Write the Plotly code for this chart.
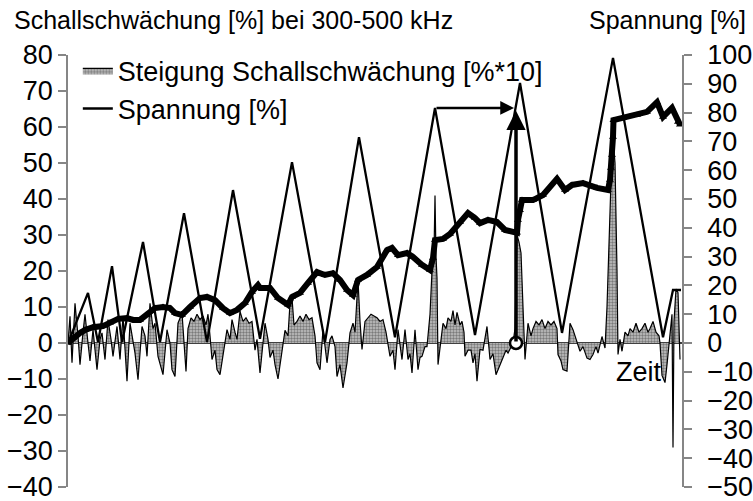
import plotly.graph_objects as go

# Time axis in samples; no tick labels are shown on it
# Voltage ramps (right axis, %)
span_t = [0, 20, 30, 44, 54, 75, 92, 116, 139, 165, 192, 224, 257, 291, 327,
          367, 407, 452, 494, 545, 595, 605, 613]
span_v = [0, 17.4, 0.3, 26.7, 0.3, 35.1, 0.3, 45.1, 0.3, 53.1, 1.5, 62.8, 0.3,
          71.5, 2, 81.6, 2.8, 90.3, 3.5, 99, 2, 18.4, 18.4]

# Attenuation 300-500 kHz (left axis, %)
daempf_t = [0, 5, 12, 17, 25, 35, 42, 50, 59, 65, 72, 79, 87, 95, 102, 107,
            114, 122, 132, 139, 147, 155, 162, 169, 177, 184, 190, 192, 202,
            210, 220, 224, 232, 240, 249, 257, 265, 272, 279, 285, 290, 299,
            309, 319, 324, 330, 339, 345, 354, 362, 365, 367, 375, 382, 392,
            400, 407, 412, 420, 429, 437, 449, 450, 452, 454, 465, 475, 489,
            497, 504, 515, 529, 540, 542, 543, 544, 545, 545.5, 555, 569, 579,
            589, 595, 604, 610, 612]
daempf_v = [0, 1.4, 2.8, 3.6, 4.4, 4.7, 5.6, 6.7, 6.9, 6.4, 6.4, 7.8, 9.7, 10,
            9.7, 8.3, 7.8, 10, 12.5, 12.8, 11.9, 9.7, 8.3, 9.2, 11.1, 14.2,
            16.1, 15.3, 15.3, 12.5, 10.6, 12.8, 13.9, 16.7, 19.7, 18.9, 19.4,
            17.5, 14.7, 13.3, 17.5, 18.9, 21.1, 25.8, 26.4, 24.4, 25, 23.9,
            21.7, 20.3, 23.6, 28.6, 28.9, 30.3, 33.6, 36.1, 34.7, 33.3, 34.2,
            33.6, 31.4, 30.6, 34.2, 36.9, 39.7, 39.7, 41.1, 45.6, 42.5, 43.9,
            44.4, 43.1, 42.5, 45.3, 48.6, 52.2, 57.2, 61.9, 62.5, 63.3, 64.2,
            66.9, 62.8, 65.3, 61.4, 60.6]

# Slope of the attenuation (left axis, %*10)
steig_t = [0, 2, 4, 7, 10, 12, 15, 17, 20, 22, 25, 29, 32, 34, 37, 40, 43, 45,
           49, 52, 55, 59, 62, 65, 67, 70, 74, 77, 79, 82, 85, 87, 90, 95, 99,
           102, 104, 107, 110, 114, 118, 120, 123, 126, 129, 132, 135, 138,
           140, 142, 144, 147, 149, 152, 155, 159, 162, 164, 167, 169, 172,
           175, 178, 181, 184, 187, 189, 192, 195, 197, 200, 202, 205, 207,
           210, 214, 217, 220, 222, 224, 226, 229, 232, 235, 238, 241, 244,
           247, 249, 252, 255, 259, 262, 264, 267, 269, 272, 275, 279, 282,
           285, 287, 289, 290, 292, 294, 297, 300, 303, 306, 309, 312, 315,
           318, 322, 325, 327, 330, 332, 334, 337, 340, 342, 344, 347, 350,
           352, 354, 357, 359, 362, 364, 366, 367, 368, 369, 370, 373, 375,
           378, 380, 383, 385, 387, 389, 392, 394, 396, 397, 400, 403, 405,
           407, 409, 412, 415, 419, 422, 425, 428, 432, 435, 438, 440, 443,
           445, 447, 449, 451, 453, 455, 457, 460, 463, 465, 468, 471, 474,
           477, 480, 483, 486, 489, 490, 493, 495, 499, 502, 505, 508, 510,
           512, 515, 517, 519, 522, 525, 528, 530, 534, 537, 539, 541, 543,
           545, 547, 549, 550, 552, 554, 557, 560, 562, 565, 568, 571, 574,
           577, 580, 582, 585, 588, 591, 592, 594, 597, 599, 601, 603, 604,
           605, 606, 608, 610, 612]
steig_v = [0, 7.4, -5.5, 11, 2, -6, 3, 8, 0, -5, 3.7, -7.4, 1, 2.8, -4.6, 6.5,
           1, -3.7, 4.6, -4.6, 7.4, -10.6, 5.5, 1, -2.8, -10.2, 4.6, 2, -3.7,
           11, 4, 5.5, -3.7, -8.8, 3.7, 0, -7.4, -9.3, 5.5, 8.3, -7.9, 4, 7, 6,
           8, 6.5, 7.5, 5, 8, 2, -4.6, -2, -7.4, -8.8, -3, 3.7, 1, 6.5, 3, 1,
           8.8, 6, 7, 5.5, 6, -2, 1, -8.3, 0, 5.5, 1, -4, -2, -6, -10, -3, 3.5,
           2, 11, 12.5, 5, 6, 7.5, 6, 8, 6.5, 7, 2, -5.5, -7.4, 3.7, -5.5, 1, 2,
           -1, -9.3, -6, -12.5, -5.5, 2.8, 5.5, 3, 15, 17.5, 6, -1.8, 6, 7, 8,
           7.5, 7, 6, 6.5, 3, -3.7, -2, -7.4, 3.7, -1, -4.6, 3.7, -4.6, -3,
           -8.3, 3.7, -7.4, -4, -3.7, -1, -1, 8, 20, 25, 41, 24, 18, -6, 1, 5.5,
           4, 7, 6, 9, 5, 8.5, 5, 6, 3, -3.7, -2, -2, -5.5, -3, -10.6, -1.8, -2,
           4.6, -4.6, -3, -8.8, -6, -3.7, -2, -2.8, -1, 0, 4, 30, 28, 25, 10,
           -4.6, 5.5, 2, 4, 6, 5, 6.5, 4, 6, 5, 6, 4, -3.2, -5, -7.4, -7.8, 5.5,
           3.7, 1, -1, -2.3, -1, -2.8, -4.2, -4.6, -3.2, -1, -2.8, 1.8, -1.4,
           10, 30, 45, 57, 50, 20, -3.2, 1, -2.3, 3, 2, 4, 3, 5.5, 3, 4, 5.5, 3,
           4, 6, 3, 2, 0, -9, -11, -6, -1, 4, 8, -29, 6, 15, 14, -4.6]

# Marked event: voltage level of the previous peak and the moment it is exceeded
prev_peak_t, prev_peak_v = 367, 81.6
event_t = 448

FONT = "Liberation Sans, Arial, sans-serif"
AXIS_GREY = "#868686"

fig = go.Figure()

fig.add_trace(go.Scatter(
    x=steig_t, y=steig_v, name="Steigung Schallschwächung [%*10]",
    mode="lines", line=dict(color="black", width=1.2),
    fill="tozeroy", fillcolor="#a8a8a8",
    fillpattern=dict(shape=".", fgcolor="#303030", bgcolor="#c4c4c4",
                     size=3, solidity=0.5),
    yaxis="y",
))

fig.add_trace(go.Scatter(
    x=span_t, y=span_v, name="Spannung [%]",
    mode="lines", line=dict(color="black", width=2.3),
    yaxis="y2",
))

fig.add_trace(go.Scatter(
    x=daempf_t, y=daempf_v, name="Schallschwächung",
    mode="lines+markers", line=dict(color="black", width=6),
    marker=dict(symbol="triangle-up", size=7, color="black"),
    showlegend=False, yaxis="y",
))

fig.add_trace(go.Scatter(
    x=[event_t], y=[0], mode="markers", showlegend=False,
    marker=dict(symbol="circle", size=12, color="white",
                line=dict(color="black", width=2.5)),
    yaxis="y",
))

# zero line of the time axis
fig.add_shape(type="line", xref="paper", yref="y", x0=-0.007, x1=1,
              y0=0, y1=0, line=dict(color="black", width=1.5), layer="below")

# horizontal arrow at the previous peak voltage
fig.add_annotation(x=event_t - 2, y=prev_peak_v, ax=prev_peak_t, ay=prev_peak_v,
                   xref="x", yref="y2", axref="x", ayref="y2", text="",
                   showarrow=True, arrowhead=2, arrowsize=1.1, arrowwidth=2.5,
                   arrowcolor="black", standoff=0, startstandoff=0)
# vertical arrow from the event marker up to that level
fig.add_annotation(x=event_t, y=prev_peak_v - 1, ax=event_t, ay=0,
                   xref="x", yref="y2", axref="x", ayref="y2", text="",
                   showarrow=True, arrowhead=2, arrowsize=1.1, arrowwidth=3.5,
                   arrowcolor="black", standoff=0, startstandoff=0)

fig.add_annotation(text="Schallschwächung [%] bei 300-500 kHz", xref="paper",
                   yref="paper", x=-0.092, y=1.081, xanchor="left",
                   yanchor="middle", showarrow=False,
                   font=dict(family=FONT, size=25, color="black"))
fig.add_annotation(text="Spannung [%]", xref="paper", yref="paper",
                   x=1.107, y=1.081, xanchor="right", yanchor="middle",
                   showarrow=False,
                   font=dict(family=FONT, size=25, color="black"))
fig.add_annotation(text="Zeit", xref="x", yref="y", x=571, y=-8,
                   xanchor="center", yanchor="middle", showarrow=False,
                   font=dict(family=FONT, size=27, color="black"))

fig.update_layout(
    width=753, height=501, autosize=False,
    margin=dict(l=68, r=71, t=55, b=14),
    paper_bgcolor="white", plot_bgcolor="white",
    font=dict(family=FONT, size=27, color="black"),
    showlegend=True,
    legend=dict(x=0.016, y=1.02, xanchor="left", yanchor="top",
                bgcolor="rgba(0,0,0,0)", font=dict(size=27),
                itemwidth=30, tracegroupgap=0, traceorder="normal"),
    xaxis=dict(range=[0, 614], showline=False, showgrid=False,
               zeroline=False, showticklabels=False, ticks="",
               automargin=False),
    yaxis=dict(range=[-40, 80], dtick=10, tick0=0, showgrid=False,
               zeroline=False, showline=True, linecolor=AXIS_GREY,
               linewidth=1.5, ticks="outside", ticklen=8,
               tickcolor=AXIS_GREY, tickwidth=1.5, ticklabelstandoff=0,
               ticklabeloverflow="allow", automargin=False),
    yaxis2=dict(range=[-50, 100], dtick=10, tick0=0, overlaying="y",
                side="right", showgrid=False, zeroline=False, showline=True,
                linecolor=AXIS_GREY, linewidth=1.5, ticks="outside",
                ticklen=8, tickcolor=AXIS_GREY, tickwidth=1.5,
                ticklabelstandoff=10, ticklabeloverflow="allow",
                automargin=False),
)

fig.write_html("out.html")
